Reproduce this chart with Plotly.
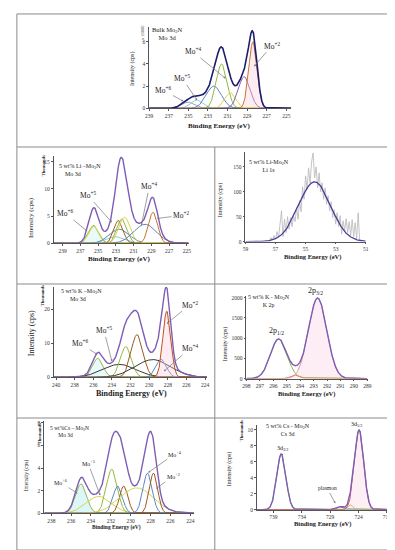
import numpy as np
import plotly.graph_objects as go

W, H = 395, 550

# ----------------------------- DATA -----------------------------
# A: bulk Mo2N, Mo 3d (x 10000 cps)
bulk_center = [235.0, 234.1, 232.4, 231.6, 230.7, 229.3, 228.4]
bulk_height = [0.55, 0.75, 2.0, 4.0, 1.4, 2.85, 6.0]
bulk_fwhm = [1.6, 1.5, 1.8, 1.3, 1.3, 1.4, 1.0]

# B: 5 wt% Li-Mo2N, Mo 3d (thousands cps)
li_center = [235.5, 235.45, 233.0, 232.6, 232.7, 232.3, 232.0, 229.7, 228.8]
li_height = [3.3, 3.1, 1.2, 2.6, 4.2, 4.5, 4.8, 3.5, 5.7]
li_fwhm = [1.3, 1.4, 2.5, 2.6, 1.2, 1.3, 1.5, 3.0, 1.2]

# C: 5 wt% Li-Mo2N, Li 1s raw counts and fit
li1s_be = [57.6, 57.5, 57.4, 57.3, 57.2, 57.1, 57.0, 56.9, 56.8, 56.7, 56.6, 56.5,
           56.4, 56.3, 56.2, 56.1, 56.0, 55.9, 55.8, 55.7, 55.6, 55.5, 55.4, 55.3,
           55.2, 55.1, 55.0, 54.9, 54.8, 54.7, 54.6, 54.5, 54.4, 54.3, 54.2, 54.1,
           54.0, 53.9, 53.8, 53.7, 53.6, 53.5, 53.4, 53.3, 53.2, 53.1, 53.0, 52.9,
           52.8, 52.7, 52.6, 52.5, 52.4, 52.3, 52.2, 52.1, 52.0, 51.9, 51.8, 51.7,
           51.6, 51.5, 51.4, 51.3]
li1s_counts = [0, 2, 0, 8, 3, 12, 5, 20, 8, 35, 62, 10,
               45, 18, 50, 25, 48, 30, 52, 40, 68, 45, 82, 60,
               110, 85, 132, 105, 148, 118, 160, 178, 128, 150, 108, 138,
               100, 118, 85, 108, 75, 92, 62, 80, 48, 64, 35, 58,
               30, 52, 15, 42, 22, 46, 18, 40, 12, 44, 10, 38,
               5, 58, 2, 0]
li1s_center = [54.4]
li1s_height = [120.0]
li1s_fwhm = [2.5]

# D: 5 wt% K-Mo2N, Mo 3d (thousands cps)
k_center = [235.5, 233.2, 232.5, 231.3, 229.6, 228.7, 228.1]
k_height = [5.6, 3.8, 9.0, 12.5, 5.2, 5.3, 19.4]
k_fwhm = [1.3, 4.2, 1.4, 1.5, 4.5, 1.3, 1.0]

# E: 5 wt% K-Mo2N, K 2p (cps)
k2p_center = [295.6, 294.3, 292.7]
k2p_height = [980.0, 90.0, 1990.0]
k2p_fwhm = [1.45, 0.8, 1.6]

# F: 5 wt% Cs-Mo2N, Mo 3d (thousands cps)
cs_center = [235.0, 233.2, 231.9, 231.3, 230.7, 229.4, 228.3, 227.7]
cs_height = [2.6, 1.5, 3.9, 2.4, 2.4, 2.25, 3.55, 3.55]
cs_fwhm = [1.3, 3.0, 1.3, 1.1, 1.0, 4.0, 1.1, 1.0]

# G: 5 wt% Cs-Mo2N, Cs 3d (thousands cps)
cs3d_center = [737.6, 727.1, 725.4, 723.9]
cs3d_height = [7.0, 0.38, 0.6, 10.0]
cs3d_fwhm = [1.9, 1.5, 1.0, 1.9]

# tick labels
ticks_x = {
    1: [239, 237, 235, 233, 231, 229, 227, 225],
    2: [239, 237, 235, 233, 231, 229, 227, 225],
    3: [59, 57, 55, 53, 51],
    4: [240, 238, 236, 234, 232, 230, 228, 226, 224],
    5: [298, 297, 296, 295, 294, 293, 292, 291, 290, 289],
    6: [238, 236, 234, 232, 230, 228, 226, 224],
    7: [739, 734, 729, 724, 719],
}
ticks_y = {
    1: [0, 2, 4, 6],
    2: [0, 5, 10, 15],
    3: [0, 50, 100, 150],
    4: [0, 10, 20],
    5: [0, 500, 1000, 1500, 2000],
    6: [0, 2, 4, 6, 8],
    7: [0, 2, 4, 6, 8, 10],
}

# ----------------------------- STYLE / LAYOUT -----------------------------
ORANGE = "#c8742e"; PURPLE = "#8a62ad"; GREEN = "#93b944"; YELLOW = "#d9d352"
BLUE = "#5d86c6"; LBLUE = "#87cde0"; GREY = "#a4a4b8"; DARK = "#3a3a3a"
BROWN = "#9a5a1e"; ENV = "#7d5db6"; NAVY = "#1d1d70"; RED = "#d85a5a"

bulk_colors = [GREY, LBLUE, BLUE, GREEN, YELLOW, PURPLE, ORANGE]
li_colors = [GREEN, YELLOW, LBLUE, BLUE, BROWN, GREEN, YELLOW, BLUE, ORANGE]
k_colors = [GREEN, DARK, GREEN, BROWN, DARK, BLUE, "#c0521e"]
k2p_colors = [GREEN, ORANGE, "#e39aa8"]
cs_colors = [GREEN, YELLOW, GREEN, BLUE, BROWN, YELLOW, BLUE, BROWN]
cs3d_colors = [GREEN, BLUE, "#b8b040", RED]

# panel geometry in pixels: (x range, px left, px right, y range, py bottom, py top)
geom = {
    1: ([239, 224.5], 140, 285, [0, 7.3], 100, 18.5),
    2: ([240, 224.8], 42.6, 180.2, [0, 16], 236, 148.5),
    3: ([59, 51], 238.3, 361, [0, 180], 234.3, 144),
    4: ([240.25, 223.8], 42.6, 198.9, [0, 26.5], 371, 280),
    5: ([298, 289], 239.3, 362.7, [0, 2050], 372.3, 288.7),
    6: ([238.7, 223.6], 33, 186, [0, 8.2], 508, 414.7),
    7: ([741.9, 718.6], 250, 385, [0, 10.6], 504.3, 419.2),
}

SERIF = "Liberation Serif"


def px(x):
    return x / W


def py(y):
    return 1 - y / H


def gauss(x, c, h, w):
    s = w / 2.3548
    return h * np.exp(-0.5 * ((x - c) / s) ** 2)


fig = go.Figure()


def add_fit(n, centers, heights, fwhms, colors, env_color, fills=None, env_width=1.4):
    xr = geom[n][0]
    x = np.linspace(min(xr), max(xr), 900)
    total = np.zeros_like(x)
    fills = fills or {}
    for i, (c, h, w) in enumerate(zip(centers, heights, fwhms)):
        y = gauss(x, c, h, w)
        total += y
        kw = {}
        if i in fills:
            kw = dict(fill="tozeroy", fillcolor=fills[i])
        fig.add_trace(go.Scatter(x=x, y=y, mode="lines",
                                 line=dict(color=colors[i], width=1.0),
                                 xaxis=f"x{n}", yaxis=f"y{n}", **kw))
    fig.add_trace(go.Scatter(x=x, y=total, mode="lines",
                             line=dict(color=env_color, width=env_width),
                             xaxis=f"x{n}", yaxis=f"y{n}"))


add_fit(1, bulk_center, bulk_height, bulk_fwhm, bulk_colors, NAVY,
        fills={6: "rgba(250,200,215,0.35)"}, env_width=1.6)
add_fit(2, li_center, li_height, li_fwhm, li_colors, ENV,
        fills={0: "rgba(190,240,240,0.35)"})
# Li 1s raw data then fit
fig.add_trace(go.Scatter(x=li1s_be, y=li1s_counts, mode="lines",
                         line=dict(color="#bdbdbd", width=0.9),
                         xaxis="x3", yaxis="y3"))
x3 = np.linspace(51, 59, 500)
fig.add_trace(go.Scatter(x=x3, y=gauss(x3, li1s_center[0], li1s_height[0], li1s_fwhm[0]),
                         mode="lines", line=dict(color="#4a3f9a", width=1.3),
                         xaxis="x3", yaxis="y3"))
add_fit(4, k_center, k_height, k_fwhm, k_colors, ENV,
        fills={6: "rgba(250,200,215,0.35)", 0: "rgba(190,240,240,0.35)"})
add_fit(5, k2p_center, k2p_height, k2p_fwhm, k2p_colors, ENV,
        fills={2: "rgba(250,200,225,0.3)"})
add_fit(6, cs_center, cs_height, cs_fwhm, cs_colors, ENV,
        fills={0: "rgba(170,235,240,0.4)"})
add_fit(7, cs3d_center, cs3d_height, cs3d_fwhm, cs3d_colors, ENV,
        fills={3: "rgba(250,205,220,0.3)"})

layout = dict(width=W, height=H, margin=dict(l=0, r=0, t=0, b=0),
              paper_bgcolor="white", plot_bgcolor="white", showlegend=False)

for n, (xr, l, r, yr, b, t) in geom.items():
    ax = dict(domain=[px(l), px(r)], range=xr, anchor=f"y{n}",
              showline=True, linecolor="#555", linewidth=0.8,
              ticks="outside", ticklen=2, tickwidth=0.6, tickcolor="#555",
              tickvals=ticks_x[n], tickfont=dict(family=SERIF, size=5.5, color="#333"),
              showgrid=False, zeroline=False)
    ay = dict(domain=[py(b), py(t)], range=yr, anchor=f"x{n}",
              showline=True, linecolor="#555", linewidth=0.8,
              ticks="outside", ticklen=2, tickwidth=0.6, tickcolor="#555",
              tickvals=ticks_y[n], tickfont=dict(family=SERIF, size=5.5, color="#333"),
              showgrid=False, zeroline=False)
    key = "" if n == 1 else str(n)
    layout[f"xaxis{key}"] = ax
    layout[f"yaxis{key}"] = ay

fig.update_layout(**layout)

# grid lines of the figure table
shapes = []
line = dict(color="#8a8a8a", width=1)
shapes.append(dict(type="rect", xref="paper", yref="paper", x0=px(5), x1=px(391),
                   y0=py(545), y1=py(5), line=line))
for yy in [139, 277, 412]:
    shapes.append(dict(type="line", xref="paper", yref="paper", x0=px(5), x1=px(391),
                       y0=py(yy), y1=py(yy), line=line))
shapes.append(dict(type="line", xref="paper", yref="paper", x0=px(207), x1=px(207),
                   y0=py(139), y1=py(545), line=line))
fig.update_layout(shapes=shapes)

ann = []


def text(x, y, s, size=6.5, angle=0, align="center", bold=False, xanchor="center"):
    if bold:
        s = f"<b>{s}</b>"
    ann.append(dict(x=px(x), y=py(y), xref="paper", yref="paper", text=s,
                    showarrow=False, textangle=angle, align=align, xanchor=xanchor,
                    yanchor="middle", font=dict(family=SERIF, size=size, color="#222")))


def arrow(tx, ty, hx, hy, s, size=7.5):
    ann.append(dict(x=px(hx), y=py(hy), xref="paper", yref="paper", text=s,
                    showarrow=True, ax=tx - hx, ay=ty - hy, arrowhead=2, arrowsize=0.6,
                    arrowwidth=0.7, arrowcolor="#777",
                    font=dict(family=SERIF, size=size, color="#222")))


# axis titles
for (x, y, s) in [(212, 118, 7), (110, 252, 7), (307, 250, 6.5), (122, 387, 8),
                  (301, 388, 6.5), (107, 522, 5.5), (317, 519, 6.5)]:
    text(x, y, "Binding Energy (eV)", size=s, bold=True)
for (x, y, s) in [(123, 60, 6), (20, 210, 7), (213, 192, 6), (20, 327, 8),
                  (218, 337, 6), (15, 470, 5.5), (222, 463, 6)]:
    text(x, y, "Intensity (cps)", size=s, angle=-90)
text(134, 24, "x 10000", size=4.5, angle=-90)
for (x, y) in [(32, 158), (32, 289), (28, 428), (235, 425)]:
    text(x, y, "Thousands", size=4.5, angle=-90, bold=True)

# panel captions
text(159, 25, "Bulk Mo<sub>2</sub>N<br>Mo 3d", size=6.5)
text(46, 162, "5 wt% Li –Mo<sub>2</sub>N<br>    Mo 3d", size=6, xanchor="left", align="left")
text(262, 158, "5 wt% Li-Mo<sub>2</sub>N<br>Li 1s", size=6)
text(48, 288, "5 wt% K –Mo<sub>2</sub>N<br>      Mo 3d", size=6, xanchor="left", align="left")
text(262, 294, "5 wt% K - Mo<sub>2</sub>N<br>K 2p", size=6)
text(37, 426, "5 wt%Cs – Mo<sub>2</sub>N<br>      Mo 3d", size=5.5, xanchor="left", align="left")
text(282, 424, "5 wt% Cs - Mo<sub>2</sub>N<br>Cs 3d", size=6)
text(310, 284, "2p<sub>3/2</sub>", size=8)
text(270, 324, "2p<sub>1/2</sub>", size=8)
text(352, 419, "3d<sub>5/2</sub>", size=6)
text(276, 443, "3d<sub>3/2</sub>", size=6)

# Mo oxidation state labels
arrow(155, 82, 175, 93, "Mo<sup>+6</sup>")
arrow(174, 70, 189, 92, "Mo<sup>+5</sup>")
arrow(185, 43, 218, 70, "Mo<sup>+4</sup>")
arrow(265, 37, 247, 58, "Mo<sup>+2</sup>")

arrow(55, 206, 77, 224, "Mo<sup>+6</sup>")
arrow(78, 188, 102, 215, "Mo<sup>+5</sup>")
arrow(140, 179, 132, 218, "Mo<sup>+4</sup>")
arrow(172, 208, 148, 211, "Mo<sup>+2</sup>")

arrow(181, 298, 158, 317, "Mo<sup>+2</sup>")
arrow(94, 324, 102, 355, "Mo<sup>+5</sup>")
arrow(70, 337, 87, 348, "Mo<sup>+6</sup>")
arrow(181, 342, 155, 365, "Mo<sup>+4</sup>")

arrow(78, 458, 90, 490, "Mo<sup>+5</sup>", size=6)
arrow(50, 477, 67, 488, "Mo<sup>+6</sup>", size=6)
arrow(166, 448, 139, 467, "Mo<sup>+4</sup>", size=6)
arrow(164, 471, 147, 483, "Mo<sup>+2</sup>", size=6)

arrow(322, 483, 330, 498, "plasmon", size=5.5)

fig.update_layout(annotations=ann)
fig.write_html("out.html")
